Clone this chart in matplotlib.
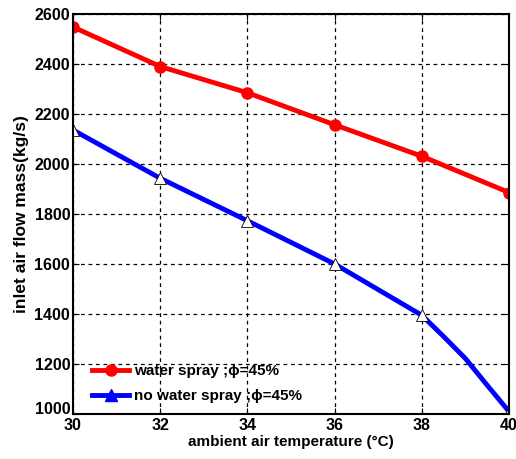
import numpy as np
import matplotlib.pyplot as plt

plt.rcParams['font.family'] = ['Liberation Sans', 'DejaVu Sans']
plt.rcParams['font.weight'] = 'bold'

# ambient temperature (C)
temp = [30, 32, 34, 36, 38, 40]
spray = [2548, 2390, 2285, 2157, 2031, 1886]

temp_dry = [30, 32, 34, 36, 38, 38.5, 39, 39.5, 40]
no_spray = [2136, 1943, 1773, 1600, 1395, 1310, 1222, 1115, 1010]
dry_marks = [0, 1, 2, 3, 4, 8]

fig = plt.figure(figsize=(5.16, 4.59), dpi=100)
ax = fig.add_axes([73 / 516, 45 / 459, 436 / 516, 400 / 459])

ax.plot(temp, spray, color='red', lw=3.5, marker='o', ms=8,
        label='water spray ;\u03d5=45%')
ax.plot(temp_dry, no_spray, color='blue', lw=3.5, marker='^', ms=8,
        markevery=dry_marks, mfc='white', mec='black', mew=0.6)
# legend handle with filled triangle
ax.plot([], [], color='blue', lw=3.5, marker='^', ms=9,
        label='no water spray ;\u03d5=45%')

ax.set_xlim(30, 40)
ax.set_ylim(1000, 2600)
ax.set_xticks(np.arange(30, 41, 2))
ax.set_yticks(np.arange(1000, 2601, 200))
ax.grid(True, color='black', ls='--', lw=0.9, dashes=(3, 3))
ax.tick_params(direction='in', top=True, right=True, labelsize=11.5,
               length=4, pad=2)
ax.tick_params(axis='x', pad=3)
# lift the bottom label a little so it clears the "30"
ax.get_yticklabels()[0].set_verticalalignment('baseline')
for s in ax.spines.values():
    s.set_linewidth(1.5)

ax.set_xlabel('ambient air temperature (\u00b0C)', fontsize=11,
              fontweight='bold', labelpad=1)
ax.set_ylabel('inlet air flow mass(kg/s)', fontsize=12.5,
              fontweight='bold', labelpad=4)

handles, labels = ax.get_legend_handles_labels()
leg = ax.legend(handles, labels, loc='lower left', frameon=False,
                prop={'size': 11, 'weight': 'bold'}, handlelength=2.4,
                handletextpad=0.3, labelspacing=0.75, borderaxespad=0.3,
                bbox_to_anchor=(0.02, 0.0))

fig.savefig('out.png', dpi=100)
